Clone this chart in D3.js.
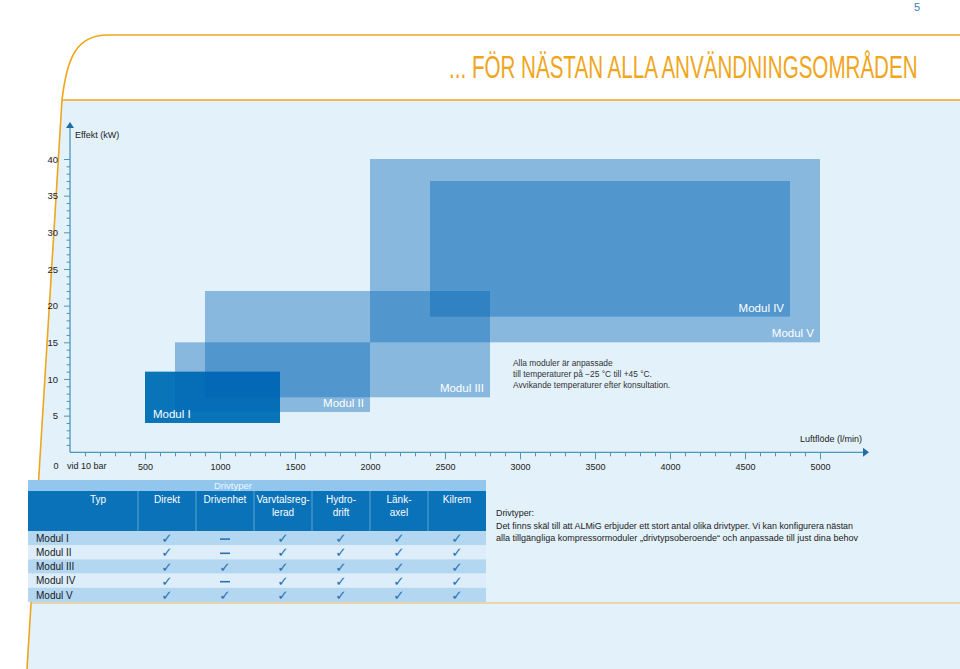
<!DOCTYPE html>
<html><head><meta charset="utf-8">
<script src="https://cdn.jsdelivr.net/npm/d3@7"></script>
<style>
body{margin:0;background:#fff}
svg{display:block}
text{font-family:"Liberation Sans",Arial,Helvetica,sans-serif}
</style>
</head><body>
<svg id="chart" width="960" height="669"></svg>
<script>
// ---- data ----
const modules   = ["Modul I","Modul II","Modul III","Modul IV","Modul V"];
const flowMin   = [500, 700, 900, 2400, 2000];     // l/min
const flowMax   = [1400, 2000, 2800, 4800, 5000];  // l/min
const powerMin  = [4, 5.5, 7.5, 18.5, 15];         // kW
const powerMax  = [11, 15, 22, 37, 40];            // kW
const yTicks    = [5, 10, 15, 20, 25, 30, 35, 40];
const yMinor    = d3.range(1, 41);
const xTicks    = [500, 1000, 1500, 2000, 2500, 3000, 3500, 4000, 4500, 5000];
const xMinor    = d3.range(100, 5001, 100);
const driveTypes  = ["Direkt","Drivenhet","Varvtalsreglerad","Hydrodrift","Länkaxel","Kilrem"];
const driveLabels = [["Direkt"],["Drivenhet"],["Varvtalsreg-","lerad"],["Hydro-","drift"],["Länk-","axel"],["Kilrem"]];
const support = [
  [1,0,1,1,1,1],
  [1,0,1,1,1,1],
  [1,1,1,1,1,1],
  [1,0,1,1,1,1],
  [1,1,1,1,1,1]
];
const titleText = "... FÖR NÄSTAN ALLA ANVÄNDNINGSOMRÅDEN";
const noteLines = ["Alla moduler är anpassade","till temperaturer på −25 °C till +45 °C.","Avvikande temperaturer efter konsultation."];
const infoLines = ["Drivtyper:","Det finns skäl till att ALMiG erbjuder ett stort antal olika drivtyper. Vi kan konfigurera nästan","alla tillgängliga kompressormoduler „drivtypsoberoende“ och anpassade till just dina behov"];

// ---- setup ----
const svg = d3.select("#chart");
const ORANGE = "#f0a61c";
const BG = "#e3f1fb";
const AXIS = "#4d96b9";

// panel background & frame
svg.append("path")
  .attr("d","M62,100 L960,100 L960,669 L27,669 Z")
  .attr("fill",BG);
svg.append("path")
  .attr("d","M960,35 L108,35 C76,35 67,58 62,100 L27,669")
  .attr("fill","none").attr("stroke",ORANGE).attr("stroke-width",1.6);
svg.append("line").attr("x1",62).attr("x2",960).attr("y1",100).attr("y2",100)
  .attr("stroke",ORANGE).attr("stroke-width",1.6);
svg.append("line").attr("x1",32).attr("x2",960).attr("y1",603).attr("y2",603)
  .attr("stroke",ORANGE).attr("stroke-width",1.2).attr("opacity",0.7);

// page number and title
svg.append("text").attr("x",917).attr("y",11).attr("text-anchor","middle")
  .attr("font-size",11).attr("fill","#3a7fb5").text("5");
const title = svg.append("text").attr("x",0).attr("y",0)
  .attr("font-size",31).attr("fill",ORANGE)
  .style("font-family","'Liberation Sans Narrow','Liberation Sans',Arial,sans-serif")
  .text(titleText);
const tw = title.node().getComputedTextLength();
title.attr("transform",`translate(449,78) scale(${469/tw},1)`);

// ---- scales ----
const x = d3.scaleLinear().domain([0,5000]).range([70,820]);
const y = d3.scaleLinear().domain([0,40]).range([452.3,159]);

// ---- rectangles ----
const rectData = modules.map((m,i)=>({m, x0:flowMin[i], x1:flowMax[i], y0:powerMin[i], y1:powerMax[i], i}));
const order = [0,1,2,4,3];
const g = svg.append("g");
g.selectAll("rect").data(order.map(i=>rectData[i])).join("rect")
  .attr("x",d=>x(d.x0)).attr("width",d=>x(d.x1)-x(d.x0))
  .attr("y",d=>y(d.y1)).attr("height",d=>y(d.y0)-y(d.y1))
  .attr("fill",d=>d.i===0 ? "#0a74b9" : "rgb(0,100,180)")
  .attr("fill-opacity",d=>d.i===0 ? 1 : 0.4);

g.selectAll("text.lab").data(rectData).join("text").attr("class","lab")
  .attr("x",d=>d.i===0 ? x(d.x0)+8 : x(d.x1)-6)
  .attr("y",d=>y(d.y0)-5)
  .attr("text-anchor",d=>d.i===0?"start":"end")
  .attr("font-size",11.5).attr("fill","#ffffff")
  .text(d=>d.m);

// note
svg.append("g").selectAll("text").data(noteLines).join("text")
  .attr("x",513).attr("y",(d,i)=>366+i*11)
  .attr("font-size",8.4).attr("fill","#333").text(d=>d);

// ---- axes ----
// y axis
svg.append("line").attr("x1",70).attr("x2",70).attr("y1",y(0)).attr("y2",127)
  .attr("stroke",AXIS).attr("stroke-width",1.3);
svg.append("path").attr("d","M66,128 L70,122 L74,128 Z").attr("fill","#1f6fa5");
const yMinorAxis = svg.append("g").attr("transform","translate(70,0)")
  .call(d3.axisLeft(y).tickValues(yMinor.filter(v=>v%5!==0)).tickSize(3.5).tickFormat(""));
const yAxis = svg.append("g").attr("transform","translate(70,0)")
  .call(d3.axisLeft(y).tickValues(yTicks).tickSize(6).tickPadding(6));
[yMinorAxis,yAxis].forEach(a=>{
  a.select(".domain").remove();
  a.selectAll("line").attr("stroke",AXIS);
  a.selectAll("text").attr("font-size",9.5).attr("fill","#222")
    .style("font-family","'Liberation Sans',Arial,sans-serif");
});
svg.append("text").attr("x",75).attr("y",138).attr("font-size",9).attr("fill","#222").text("Effekt (kW)");

// x axis
svg.append("line").attr("x1",70).attr("x2",864).attr("y1",y(0)).attr("y2",y(0))
  .attr("stroke",AXIS).attr("stroke-width",1.3);
svg.append("path").attr("d",`M863,${y(0)-4.5} L869,${y(0)} L863,${y(0)+4.5} Z`).attr("fill","#1f6fa5");
const xMinorAxis = svg.append("g").attr("transform",`translate(0,${y(0)})`)
  .call(d3.axisBottom(x).tickValues(xMinor.filter(v=>v%500!==0)).tickSize(4).tickFormat(""));
const xAxis = svg.append("g").attr("transform",`translate(0,${y(0)})`)
  .call(d3.axisBottom(x).tickValues(xTicks).tickSize(7).tickPadding(4).tickFormat(d3.format("d")));
[xMinorAxis,xAxis].forEach(a=>{
  a.select(".domain").remove();
  a.selectAll("line").attr("stroke",AXIS);
  a.selectAll("text").attr("font-size",9).attr("fill","#222")
    .style("font-family","'Liberation Sans',Arial,sans-serif");
});
svg.append("text").attr("x",56).attr("y",469).attr("text-anchor","middle")
  .attr("font-size",9).attr("fill","#222").text("0");
svg.append("text").attr("x",67).attr("y",469)
  .attr("font-size",9).attr("fill","#222").text("vid 10 bar");
svg.append("text").attr("x",862).attr("y",442).attr("text-anchor","end")
  .attr("font-size",9).attr("fill","#222").text("Luftflöde (l/min)");

// ---- table ----
const tLeft = 28, tRight = 486, typRight = 138;
const col = d3.scaleBand().domain(driveTypes).range([typRight,tRight]);
const row = d3.scaleBand().domain(modules).range([531,602]);
const tab = svg.append("g");
tab.append("rect").attr("x",tLeft).attr("y",480).attr("width",tRight-tLeft).attr("height",11).attr("fill","#92c6ec");
tab.append("text").attr("x",233).attr("y",489).attr("text-anchor","middle")
  .attr("font-size",9.5).attr("fill","#eef7fd").text("Drivtyper");
tab.append("rect").attr("x",tLeft).attr("y",491).attr("width",tRight-tLeft).attr("height",40).attr("fill","#0a72b8");
tab.selectAll("line.div").data(driveTypes).join("line").attr("class","div")
  .attr("x1",d=>col(d)).attr("x2",d=>col(d)).attr("y1",491).attr("y2",531)
  .attr("stroke","#5aa3d6").attr("stroke-width",1);
tab.append("text").attr("x",(tLeft+typRight)/2+15).attr("y",503).attr("text-anchor","middle")
  .attr("font-size",10).attr("fill","#fff").text("Typ");
driveTypes.forEach((d,i)=>{
  tab.append("g").selectAll("text").data(driveLabels[i]).join("text")
    .attr("x",col(d)+col.bandwidth()/2).attr("y",(t,j)=>503+j*13)
    .attr("text-anchor","middle").attr("font-size",10).attr("fill","#fff").text(t=>t);
});
tab.selectAll("rect.row").data(modules).join("rect").attr("class","row")
  .attr("x",tLeft).attr("width",tRight-tLeft)
  .attr("y",d=>row(d)).attr("height",row.bandwidth())
  .attr("fill",(d,i)=>i%2===0?"#b3d6f1":"#ddeefa");
tab.selectAll("text.rl").data(modules).join("text").attr("class","rl")
  .attr("x",36).attr("y",d=>row(d)+row.bandwidth()/2+3.6)
  .attr("font-size",10).attr("fill","#1a1a1a").text(d=>d);
const cells = [];
modules.forEach((m,i)=>driveTypes.forEach((d,j)=>cells.push({m,d,v:support[i][j]})));
tab.selectAll("text.ck").data(cells.filter(c=>c.v)).join("text").attr("class","ck")
  .attr("x",c=>col(c.d)+col.bandwidth()/2).attr("y",c=>row(c.m)+row.bandwidth()/2+5)
  .attr("text-anchor","middle").attr("font-size",13.5).attr("fill","#2a72b6")
  .style("font-family","'DejaVu Sans',sans-serif").text("✓");
tab.selectAll("line.dash").data(cells.filter(c=>!c.v)).join("line").attr("class","dash")
  .attr("x1",c=>col(c.d)+col.bandwidth()/2-5).attr("x2",c=>col(c.d)+col.bandwidth()/2+5)
  .attr("y1",c=>row(c.m)+row.bandwidth()/2+1).attr("y2",c=>row(c.m)+row.bandwidth()/2+1)
  .attr("stroke","#2a72b6").attr("stroke-width",1.6);

// info text
const infoW = [38, 357, 362];
svg.append("g").selectAll("text").data(infoLines).join("text")
  .attr("x",496).attr("y",(d,i)=>516+i*12.5)
  .attr("font-size",9).attr("fill","#222")
  .attr("textLength",(d,i)=>infoW[i]).attr("lengthAdjust","spacingAndGlyphs")
  .text(d=>d);
</script>
</body></html>
